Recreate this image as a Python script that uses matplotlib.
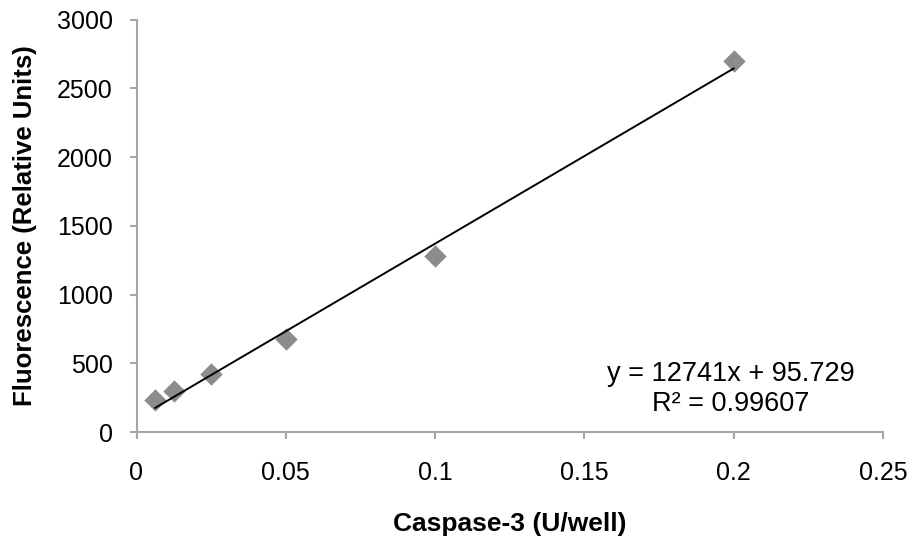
import numpy as np
import matplotlib
matplotlib.use("Agg")
import matplotlib.pyplot as plt

plt.rcParams["font.family"] = ["Liberation Sans", "DejaVu Sans"]

# caspase-3 standard curve
units = [0.00625, 0.0125, 0.025, 0.05, 0.1, 0.2]
fluor = [230, 295, 420, 675, 1280, 2700]
slope, intercept = 12741, 95.729
r2_text = "R² = 0.99607"
xticks = [0, 0.05, 0.1, 0.15, 0.2, 0.25]
xticklabels = ["0", "0.05", "0.1", "0.15", "0.2", "0.25"]
yticks = [0, 500, 1000, 1500, 2000, 2500, 3000]

W, H = 911, 537
fig = plt.figure(figsize=(W / 100, H / 100), dpi=100)
ax = fig.add_axes([136.5 / W, 1 - 432 / H, (883 - 136.5) / W, (432 - 19.5) / H])

ax.scatter(units, fluor, marker="D", s=130, color="#8c8c8c", zorder=3, linewidths=0)
xf = np.array([min(units), max(units)])
ax.plot(xf, slope * xf + intercept, color="black", lw=1.4, zorder=4)

ax.set_xlim(0, 0.25); ax.set_ylim(0, 3000)
ax.set_xticks(xticks); ax.set_xticklabels(xticklabels)
ax.set_yticks(yticks)
for s in ["top", "right"]:
    ax.spines[s].set_visible(False)
for s in ["left", "bottom"]:
    ax.spines[s].set_color("#a6a6a6"); ax.spines[s].set_linewidth(1.5)
ax.tick_params(colors="#a6a6a6", width=1.5, length=5, labelcolor="black", labelsize=18)
ax.tick_params(axis="x", pad=16); ax.tick_params(axis="y", pad=12)

ax.set_xlabel("Caspase-3 (U/well)", fontsize=19, fontweight="bold", labelpad=19)
ax.set_ylabel("Fluorescence (Relative Units)", fontsize=18.5, fontweight="bold", labelpad=14)

ax.text(0.199, 423, f"y = {slope}x + {intercept}", ha="center", va="center", fontsize=19.5)
ax.text(0.199, 204, r2_text, ha="center", va="center", fontsize=19.5)

fig.savefig("out.png", dpi=100)
